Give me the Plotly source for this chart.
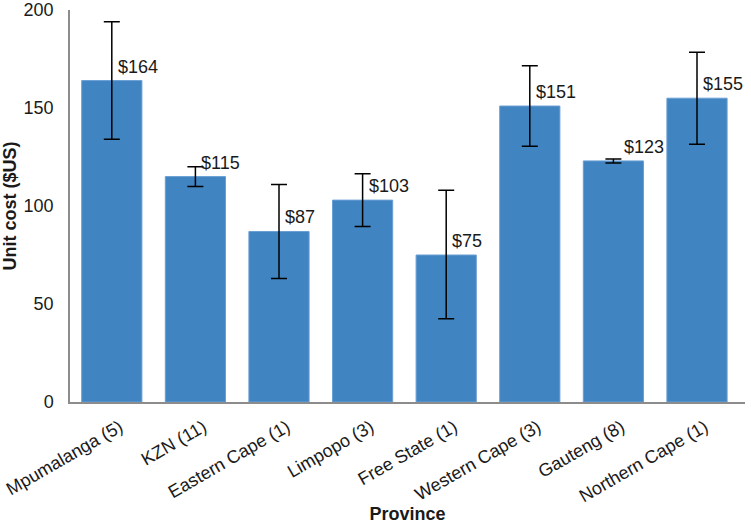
import plotly.graph_objects as go

provinces = ["Mpumalanga (5)", "KZN (11)", "Eastern Cape (1)", "Limpopo (3)",
             "Free State (1)", "Western Cape (3)", "Gauteng (8)", "Northern Cape (1)"]
unit_cost = [164, 115, 87, 103, 75, 151, 123, 155]
err_plus = [30, 5, 24, 13.5, 33, 20.5, 1, 23.5]
err_minus = [30, 5, 24, 13.5, 32.5, 20.5, 1, 23.5]
label_text = ["$" + str(v) for v in unit_cost]
y_ticks = [0, 50, 100, 150, 200]

FONT = "Liberation Sans, Arial, sans-serif"
BLUE = "#4084C2"

fig = go.Figure()
fig.add_trace(go.Bar(
    x=provinces, y=unit_cost,
    marker=dict(color=BLUE, line=dict(color="#6A9FD3", width=1)),
    width=0.72,
    error_y=dict(type="data", symmetric=False, array=err_plus, arrayminus=err_minus,
                 color="black", thickness=1.5, width=8),
    hoverinfo="x+y",
))

for p, v, t in zip(provinces, unit_cost, label_text):
    fig.add_annotation(x=p, y=v, text=t, showarrow=False, xanchor="left", yanchor="bottom",
                       xshift=9 if p.startswith("Gauteng") else 4, yshift=2,
                       font=dict(family=FONT, size=18, color="#1a1a1a"))

fig.update_layout(
    width=751, height=524,
    margin=dict(l=70, r=6, t=10, b=122, autoexpand=False),
    plot_bgcolor="white", paper_bgcolor="white",
    showlegend=False,
    font=dict(family=FONT, size=18, color="#1a1a1a"),
    bargap=0.28,
)
fig.update_xaxes(
    showline=True, linecolor="#8c8c8c", linewidth=1.5,
    tickangle=-30, ticks="", tickfont=dict(size=18),
    ticklabelstandoff=6, ticklabelshift=8,
    title=dict(text="<b>Province</b>", font=dict(size=18), standoff=8),
)
fig.update_yaxes(
    range=[0, 200], tickvals=y_ticks, showgrid=False, zeroline=False,
    showline=True, linecolor="#8c8c8c", linewidth=1.5, ticks="",
    ticklabelstandoff=11, tickfont=dict(size=18),
    title=dict(text="<b>Unit cost ($US)</b>", font=dict(size=18), standoff=14),
)

fig.write_html("out.html", config={"displayModeBar": False},
               post_script="document.body.style.margin='0';")
